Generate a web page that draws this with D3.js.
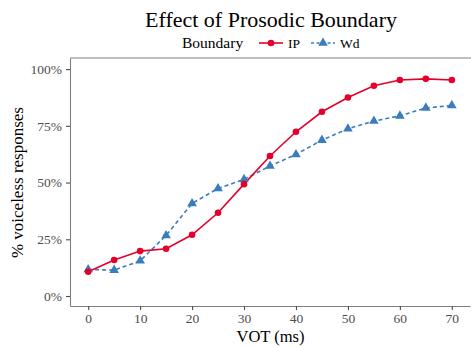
<!DOCTYPE html>
<html>
<head>
<meta charset="utf-8">
<script src="https://cdn.jsdelivr.net/npm/d3@7"></script>
<style>
  body { margin: 0; background: #fff; }
  text { font-family: "Liberation Serif", "DejaVu Serif", serif; }
</style>
</head>
<body>
<div id="chart"></div>
<script>
// data
const vot = [0, 5, 10, 15, 20, 25, 30, 35, 40, 45, 50, 55, 60, 65, 70];
const ipValues = [10.7, 15.9, 19.8, 20.8, 27.0, 36.7, 49.3, 61.7, 72.4, 81.2, 87.5, 92.7, 95.2, 95.7, 95.2];
const wdValues = [11.7, 11.4, 15.5, 26.7, 40.8, 47.4, 51.4, 57.3, 62.4, 68.7, 73.7, 77.1, 79.4, 82.9, 84.0];
const xTicks = [0, 10, 20, 30, 40, 50, 60, 70];
const yTicks = [0, 25, 50, 75, 100];
const seriesNames = ["IP", "Wd"];

const W = 471, H = 347;
const margin = { top: 58, right: 1, bottom: 41, left: 70 };
const red = "#e4002b", blue = "#3a7dbd";

const svg = d3.select("#chart").append("svg").attr("width", W).attr("height", H);

// scales (panel spans 70..470, 58..306)
const x = d3.scaleLinear().domain([-3.5, 73.5]).range([margin.left, W - margin.right]);
const y = d3.scaleLinear().domain([-4.4, 104.9]).range([H - margin.bottom, margin.top]);

// axes
const xAxis = svg.append("g").attr("transform", `translate(0,${H - margin.bottom})`)
  .call(d3.axisBottom(x).tickValues(xTicks).tickSize(4).tickPadding(3).tickSizeOuter(0));
const yAxis = svg.append("g").attr("transform", `translate(${margin.left},0)`)
  .call(d3.axisLeft(y).tickValues(yTicks).tickFormat(d => d + "%").tickSize(4).tickPadding(4).tickSizeOuter(0));

[xAxis, yAxis].forEach(g => {
  g.select(".domain").attr("stroke", "#7f7f7f").attr("stroke-width", 1.1);
  g.selectAll(".tick line").attr("stroke", "#4d4d4d").attr("stroke-width", 1.1);
  g.selectAll(".tick text").attr("fill", "#4d4d4d").style("font-size", "13.5px")
    .style("font-family", "'Liberation Serif', serif");
});

// top border line
svg.append("line")
  .attr("x1", margin.left).attr("x2", W)
  .attr("y1", margin.top).attr("y2", margin.top)
  .attr("stroke", "#7f7f7f").attr("stroke-width", 1.1);

// lines
const ipData = vot.map((v, i) => ({ x: v, y: ipValues[i] }));
const wdData = vot.map((v, i) => ({ x: v, y: wdValues[i] }));
const line = d3.line().x(d => x(d.x)).y(d => y(d.y));

svg.append("path").datum(wdData).attr("d", line)
  .attr("fill", "none").attr("stroke", blue).attr("stroke-width", 1.6)
  .attr("stroke-dasharray", "4,3");
svg.append("path").datum(ipData).attr("d", line)
  .attr("fill", "none").attr("stroke", red).attr("stroke-width", 1.6);

// points
const tri = d3.symbol().type(d3.symbolTriangle).size(40);
svg.append("g").selectAll("path").data(wdData).join("path")
  .attr("d", tri)
  .attr("transform", d => `translate(${x(d.x)},${y(d.y)})`)
  .attr("fill", blue);
svg.append("g").selectAll("circle").data(ipData).join("circle")
  .attr("cx", d => x(d.x)).attr("cy", d => y(d.y)).attr("r", 3.3)
  .attr("fill", red);

// axis titles
svg.append("text").attr("x", (margin.left + W) / 2).attr("y", 342)
  .attr("text-anchor", "middle").style("font-size", "16.5px").attr("fill", "#000")
  .text("VOT (ms)");
svg.append("text")
  .attr("transform", `translate(23,${y(50)}) rotate(-90)`)
  .attr("text-anchor", "middle").style("font-size", "17px").attr("fill", "#000")
  .text("% voiceless responses");

// title
svg.append("text").attr("x", 271).attr("y", 27)
  .attr("text-anchor", "middle").style("font-size", "22px").attr("fill", "#000")
  .text("Effect of Prosodic Boundary");

// legend
const lg = svg.append("g");
lg.append("text").attr("x", 182).attr("y", 48).style("font-size", "15.5px").text("Boundary");
const items = [
  { name: seriesNames[0], color: red, dash: null, x0: 259 },
  { name: seriesNames[1], color: blue, dash: "3,2.5", x0: 311 }
];
items.forEach((it, i) => {
  lg.append("line").attr("x1", it.x0).attr("x2", it.x0 + 24).attr("y1", 43).attr("y2", 43)
    .attr("stroke", it.color).attr("stroke-width", 1.6).attr("stroke-dasharray", it.dash);
  if (i === 0) {
    lg.append("circle").attr("cx", it.x0 + 12).attr("cy", 43).attr("r", 3.3).attr("fill", it.color);
  } else {
    lg.append("path").attr("d", tri).attr("transform", `translate(${it.x0 + 12},43)`).attr("fill", it.color);
  }
  lg.append("text").attr("x", it.x0 + 29).attr("y", 48).style("font-size", "13.5px").text(it.name);
});
</script>
</body>
</html>
